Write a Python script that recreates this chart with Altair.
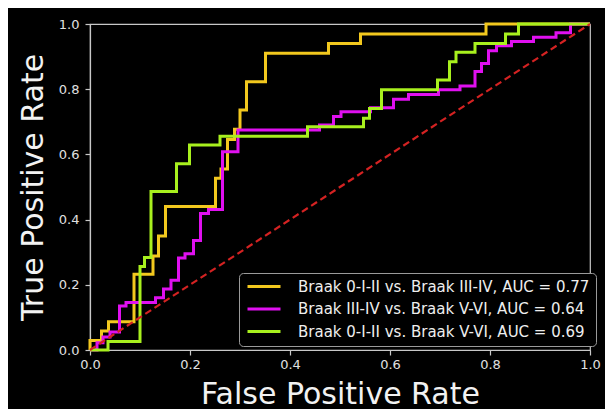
import altair as alt
import pandas as pd

labels = [
    "Braak 0-I-II vs. Braak III-IV, AUC = 0.77",
    "Braak III-IV vs. Braak V-VI, AUC = 0.64",
    "Braak 0-I-II vs. Braak V-VI, AUC = 0.69",
]
colors = ["#f2c81e", "#e010f0", "#a8f01e"]

# ROC points (step-after: horizontal to next fpr, then up to next tpr)
gold_fpr = [0, 0, 0.023, 0.037, 0.088, 0.126, 0.137, 0.151, 0.251, 0.262, 0.275,
            0.289, 0.300, 0.313, 0.351, 0.477, 0.541, 0.792, 1.0]
gold_tpr = [0, 0.029, 0.058, 0.087, 0.232, 0.288, 0.350, 0.440, 0.527, 0.555, 0.646,
            0.677, 0.736, 0.823, 0.910, 0.940, 0.969, 1.0, 1.0]

magenta_fpr = [0, 0.014, 0.026, 0.040, 0.059, 0.072, 0.131, 0.147, 0.162, 0.177, 0.190,
               0.207, 0.221, 0.237, 0.265, 0.296, 0.459, 0.487, 0.502, 0.561, 0.607,
               0.637, 0.697, 0.740, 0.770, 0.783, 0.797, 0.813, 0.843, 0.887, 0.932,
               0.961, 1.0]
magenta_tpr = [0, 0.022, 0.040, 0.055, 0.135, 0.146, 0.160, 0.187, 0.214, 0.282, 0.295,
               0.336, 0.419, 0.431, 0.608, 0.675, 0.690, 0.716, 0.731, 0.743, 0.769,
               0.784, 0.798, 0.810, 0.854, 0.879, 0.918, 0.933, 0.946, 0.959, 0.973,
               1.0, 1.0]

green_fpr = [0, 0.036, 0.100, 0.109, 0.122, 0.173, 0.199, 0.260, 0.435, 0.547, 0.559,
             0.583, 0.695, 0.719, 0.732, 0.770, 0.831, 0.857, 1.0]
green_tpr = [0, 0.026, 0.256, 0.284, 0.486, 0.571, 0.629, 0.656, 0.685, 0.711, 0.741,
             0.798, 0.828, 0.884, 0.913, 0.940, 0.969, 1.0, 1.0]

diag = [0.0, 1.0]
ticks = [0.0, 0.2, 0.4, 0.6, 0.8, 1.0]

rows = []
for lab, fx, ty in zip(labels, [gold_fpr, magenta_fpr, green_fpr],
                       [gold_tpr, magenta_tpr, green_tpr]):
    for i, (a, b) in enumerate(zip(fx, ty)):
        rows.append({"series": lab, "fpr": a, "tpr": b, "idx": i})
df = pd.DataFrame(rows)
diag_df = pd.DataFrame({"fpr": diag, "tpr": diag})

xs = alt.Scale(domain=[0, 1], nice=False, zero=False)
ys = alt.Scale(domain=[0, 1], nice=False, zero=False)

xenc = alt.X("fpr:Q", scale=xs,
             axis=alt.Axis(title="False Positive Rate", values=ticks, format=".1f",
                           labelFlush=False, labelPadding=3, titlePadding=8))
yenc = alt.Y("tpr:Q", scale=ys,
             axis=alt.Axis(title="True Positive Rate", values=ticks, format=".1f",
                           labelFlush=False, labelPadding=6, titlePadding=10))

curves = alt.Chart(df).mark_line(interpolate="step-after", strokeWidth=3).encode(
    x=xenc,
    y=yenc,
    order=alt.Order("idx:Q"),
    color=alt.Color(
        "series:N",
        scale=alt.Scale(domain=labels, range=colors),
        legend=alt.Legend(
            title=None, orient="none", legendX=149, legendY=249,
            labelFontSize=15, labelFont="DejaVu Sans", labelColor="#eeeeee",
            labelLimit=500, labelOffset=38,
            symbolType="M-1,0H5.6", symbolSize=100, symbolStrokeWidth=3,
            fillColor="#000000", strokeColor="#9a9a9a", cornerRadius=4,
            padding=6, rowPadding=6.5,
        ),
    ),
)

diagonal = alt.Chart(diag_df).mark_line(
    color="#d42222", strokeDash=[7, 4], strokeWidth=2.2
).encode(x=alt.X("fpr:Q", scale=xs), y=alt.Y("tpr:Q", scale=ys))

chart = (
    alt.layer(curves, diagonal)
    .properties(
        width=500, height=326,
        autosize=alt.AutoSizeParams(type="none"),
        padding={"left": 82, "top": 16, "right": 15, "bottom": 59},
        background="#000000",
    )
    .configure_view(stroke="#c8c8c8", strokeWidth=1.2)
    .configure_axis(
        grid=False,
        domainColor="#c8c8c8", domainWidth=1.2,
        tickColor="#c8c8c8", tickSize=5, tickWidth=1.2,
        labelColor="#e0e0e0", labelFont="DejaVu Sans", labelFontSize=13,
        titleColor="#f2f2f2", titleFont="DejaVu Sans", titleFontSize=30,
        titleFontWeight="normal",
    )
)

chart.save("out.html", embed_options={"renderer": "svg", "actions": False})
